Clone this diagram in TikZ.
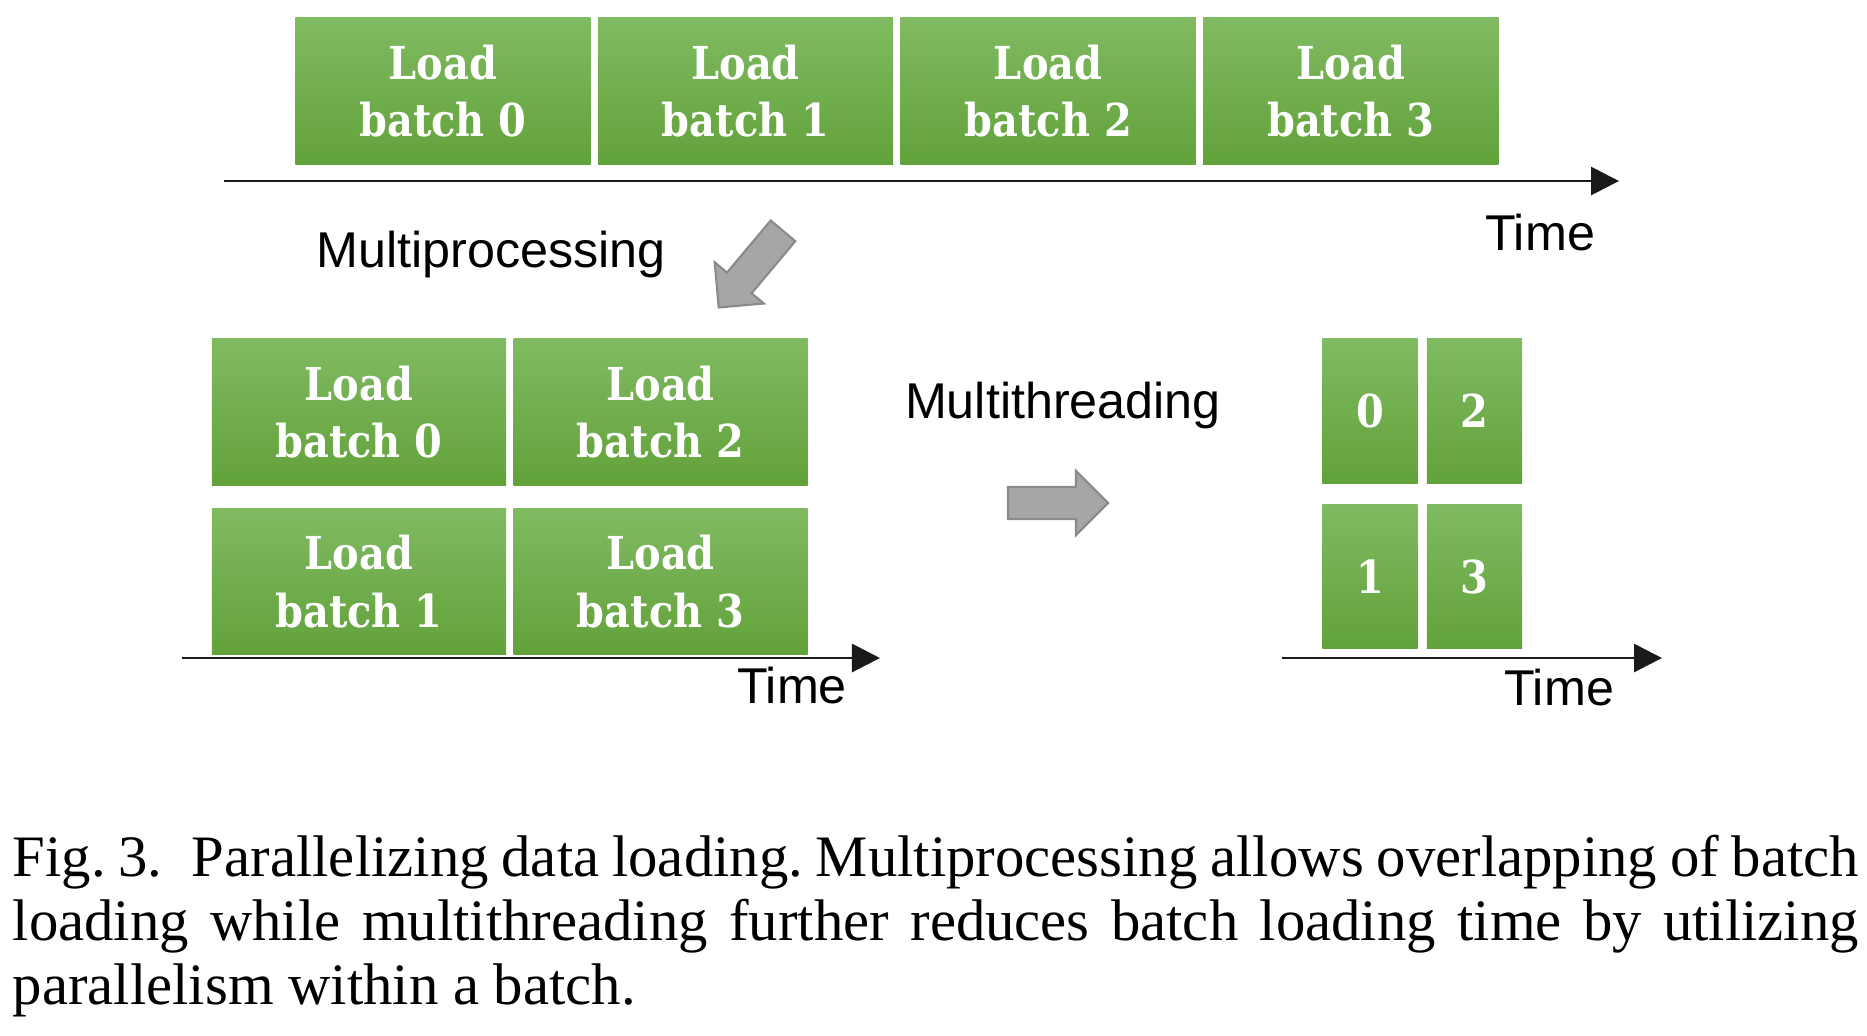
\documentclass[tikz,border=0pt]{standalone}
\usepackage{fontspec}
\setmainfont{Liberation Serif}
\setsansfont{Liberation Sans}
\newfontfamily\boxfont{DejaVu Serif}[FakeStretch=0.88]
\usepackage{xcolor}
\usetikzlibrary{shapes.arrows,arrows.meta,positioning}
\definecolor{BarTop}{HTML}{80BA62}
\definecolor{BarBot}{HTML}{62A23A}
\definecolor{ArrowGray}{HTML}{A6A6A6}
\definecolor{ArrowEdge}{HTML}{8A8A8A}
\definecolor{Ink}{HTML}{1A1A1A}

\begin{document}
\begin{tikzpicture}[x=0.01cm, y=-0.01cm, node distance=0.06cm,
    every node/.style={inner sep=0pt},
    loadbox/.style={rectangle, top color=BarTop, bottom color=BarBot,
      minimum width=2.95cm, minimum height=1.46cm, text=white, align=center,
      font=\boxfont\bfseries\fontsize{12.9}{16.3}\selectfont},
    slot/.style={loadbox, minimum width=0.95cm, minimum height=1.44cm},
    timeaxis/.style={draw=Ink, line width=0.8pt, -{Triangle[length=0.28cm,width=0.28cm]}},
    sanstext/.style={font=\sffamily\fontsize{14.3}{17}\selectfont},
    blockarrow/.style={single arrow, fill=ArrowGray, draw=ArrowEdge, line width=0.6pt,
      inner xsep=0pt, inner ysep=0.15cm, minimum height=1.0cm,
      single arrow head extend=0.16cm, single arrow head indent=0cm}]
  \useasboundingbox (0,0) rectangle (1867,1035);

  % one process, batches in a row
  \node[loadbox] (t0) at (443,91) {Load\\batch 0};
  \node[loadbox, right=of t0] (t1) {Load\\batch 1};
  \node[loadbox, right=of t1] (t2) {Load\\batch 2};
  \node[loadbox, right=of t2] (t3) {Load\\batch 3};
  \coordinate (a0) at (224,181);
  \coordinate (a1) at (1619,181);
  \draw[timeaxis] (a0) -- (a1);
  \node[sanstext, anchor=base] (ta) at (1540,250) {Time};

  \node[sanstext, anchor=base] (mp) at (491,267) {Multiprocessing};
  \node[blockarrow, rotate=230] (down) at (756,263) {};

  % two workers
  \node[loadbox, minimum width=2.94cm] (m0) at (359,412) {Load\\batch 0};
  \node[loadbox, minimum width=2.94cm, right=of m0] (m2) {Load\\batch 2};
  \node[loadbox, minimum width=2.94cm, below=0.22cm of m0] (m1) {Load\\batch 1};
  \node[loadbox, minimum width=2.94cm, right=of m1] (m3) {Load\\batch 3};
  \coordinate (b0) at (182,658);
  \coordinate (b1) at (880,658);
  \draw[timeaxis] (b0) -- (b1);
  \node[sanstext, anchor=base] (tb) at (792,703) {Time};

  \node[sanstext, anchor=base] (mt) at (1063,418) {Multithreading};
  \node[blockarrow] (across) at (1050,503) {};

  % threads inside each worker
  \node[slot] (s0) at (1370,411) {0};
  \node[slot, right=0.08cm of s0] (s2) {2};
  \node[slot, below=0.2cm of s0] (s1) {1};
  \node[slot, right=0.08cm of s1] (s3) {3};
  \coordinate (c0) at (1282,658);
  \coordinate (c1) at (1662,658);
  \draw[timeaxis] (c0) -- (c1);
  \node[sanstext, anchor=base] (tc) at (1559,705) {Time};

  \node[anchor=north west, text width=18.45cm, align=justify,
    font=\frenchspacing\fontsize{16.7}{18.2}\selectfont] (cap) at (12,834)
    {Fig.~3.\hskip0.5em Parallelizing data loading. Multiprocessing allows overlapping of batch\linebreak
     loading while multithreading further reduces batch loading time by utilizing\linebreak
     parallelism within a batch.};
\end{tikzpicture}
\end{document}
